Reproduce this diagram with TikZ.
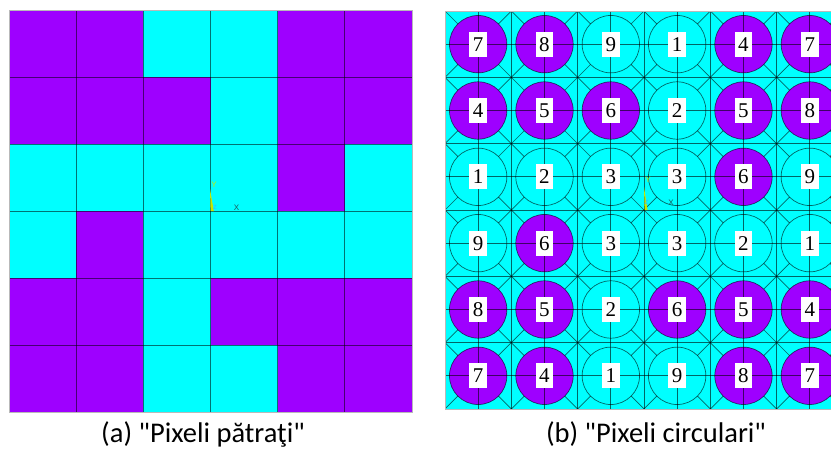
\documentclass[tikz,border=0pt]{standalone}
\usepackage{fontspec}
\setmainfont{Carlito}
\newfontfamily\capfont{Carlito}
\newfontfamily\digitfont{Liberation Serif}
\newfontfamily\axfont{Liberation Sans}
\definecolor{vp}{HTML}{9E00FF}
\definecolor{cy}{HTML}{00FFFF}
\definecolor{axy}{HTML}{C8E600}
\definecolor{axz}{HTML}{40B0FF}
\definecolor{axx}{HTML}{1E5A5A}
\begin{document}
\begin{tikzpicture}[x=1pt,y=-1pt,
  gridl/.style={black,opacity=0.55,line width=0.8pt},
  meshl/.style={black,opacity=0.6,line width=0.7pt},
  circl/.style={black,opacity=0.6,line width=0.7pt},
  numbox/.style={fill=white,inner sep=0pt,minimum width=17.5pt,minimum height=25pt,font=\digitfont\fontsize{21}{21}\selectfont},
  captxt/.style={font=\capfont\fontsize{28.5}{28.5}\selectfont,anchor=base,inner sep=0pt},
  axlab/.style={font=\axfont\fontsize{8}{8}\selectfont,inner sep=0pt}]
\useasboundingbox (0,0) rectangle (831,448);
\fill[white] (0,0) rectangle (831,448);
% ---------- left panel: square pixels ----------
\def\lx{9}\def\ly{10}\def\ls{67.1667}\def\lt{67}
\foreach \r/\cols in {0/{vp,vp,cy,cy,vp,vp},1/{vp,vp,vp,cy,vp,vp},2/{cy,cy,cy,cy,vp,cy},3/{cy,vp,cy,cy,cy,cy},4/{vp,vp,cy,vp,vp,vp},5/{vp,vp,cy,cy,vp,vp}}{
  \foreach \k [count=\i from 0] in \cols {
    \fill[\k] ({\lx+\i*\ls},{\ly+\r*\lt}) rectangle ++(\ls,\lt);
  }
}
\foreach \k in {1,...,5}{
  \draw[gridl] ({\lx+\k*\ls},10) -- ({\lx+\k*\ls},412);
  \draw[gridl] (9,{\ly+\k*\lt}) -- (412,{\ly+\k*\lt});
}
\draw[gray!55,line width=0.9pt] (9,10) rectangle (412,412);
% axis triad (left)
\fill[axy] (210,189) -- (213.8,211) -- (210.6,211) -- cycle;
\node[axlab,text=axy] (ya) at (214,185) {Y};
\node[axlab,text=axz,font=\axfont\fontsize{6}{6}\selectfont] (za) at (215,207) {Z};
\node[axlab,text=axx] (xa) at (236.5,207.5) {X};
% ---------- right panel: circular pixels ----------
\def\rx{445}\def\ry{11}\def\rs{66.33}
\begin{scope}
\clip (445,11) rectangle (831,409);
\fill[cy] (445,11) rectangle (845,409);
\foreach \r/\nums in {0/{7,8,9,1,4,7},1/{4,5,6,2,5,8},2/{1,2,3,3,6,9},3/{9,6,3,3,2,1},4/{8,5,2,6,5,4},5/{7,4,1,9,8,7}}{
  \foreach \k [count=\i from 0] in \nums {
    \pgfmathtruncatemacro\isp{and(\k>3,\k<9)}
    \ifnum\isp=1 \def\cc{vp}\else\def\cc{cy}\fi
    \fill[\cc] ({\rx+(\i+0.5)*\rs},{\ry+(\r+0.5)*\rs}) circle[radius=28.7pt];
    \draw[circl] ({\rx+(\i+0.5)*\rs},{\ry+(\r+0.5)*\rs}) circle[radius=28.7pt];
  }
}
\foreach \k in {0,...,12}{
  \draw[meshl] ({\rx+\k*\rs/2},11) -- ({\rx+\k*\rs/2},409);
  \draw[meshl] (445,{\ry+\k*\rs/2}) -- (845,{\ry+\k*\rs/2});
}
\foreach \i in {0,...,6}{
  \foreach \j in {0,...,6}{
    \draw[meshl] ({\rx+\i*\rs-12.9},{\ry+\j*\rs-12.9}) -- ++(25.8,25.8);
    \draw[meshl] ({\rx+\i*\rs-12.9},{\ry+\j*\rs+12.9}) -- ++(25.8,-25.8);
  }
}
\foreach \r/\nums in {0/{7,8,9,1,4,7},1/{4,5,6,2,5,8},2/{1,2,3,3,6,9},3/{9,6,3,3,2,1},4/{8,5,2,6,5,4},5/{7,4,1,9,8,7}}{
  \foreach \k [count=\i from 0] in \nums {
    \node[numbox] (d-\r-\i) at ({\rx+(\i+0.5)*\rs},{\ry+(\r+0.5)*\rs}) {\k};
  }
}
\end{scope}
\draw[gray!55,line width=0.9pt] (831,409) -- (445,409) -- (445,11) -- (831,11);
% axis triad (right)
\fill[axy] (644,187) -- (647.5,210) -- (644.6,210) -- cycle;
\node[axlab,text=axy] (yb) at (648,180) {Y};
\node[axlab,text=axz,font=\axfont\fontsize{6}{6}\selectfont] (zb) at (646.5,202) {Z};
\node[axlab,text=axx] (xb) at (671,202.5) {X};
% ---------- captions ----------
\node[captxt] (capa) at (203,442) {(a) "Pixeli pătraţi"};
\node[captxt] (capb) at (656,442) {(b) "Pixeli circulari"};
\end{tikzpicture}
\end{document}
